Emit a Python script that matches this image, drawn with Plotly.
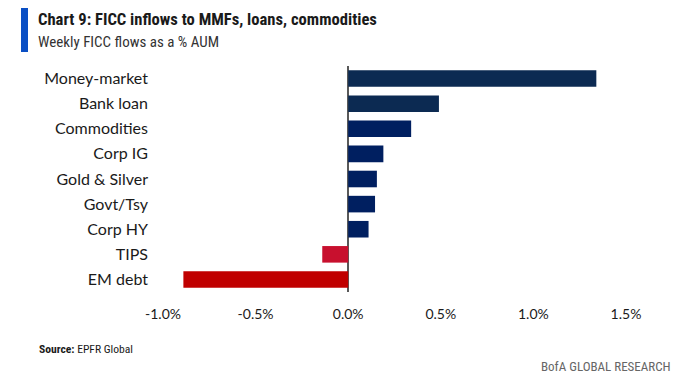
import plotly.graph_objects as go

categories = ["Money-market", "Bank loan", "Commodities", "Corp IG", "Gold & Silver",
              "Govt/Tsy", "Corp HY", "TIPS", "EM debt"]
flows_pct = [1.34, 0.49, 0.34, 0.19, 0.155, 0.145, 0.11, -0.14, -0.89]
tick_vals = [-1.0, -0.5, 0.0, 0.5, 1.0, 1.5]
tick_text = ["-1.0%", "-0.5%", "0.0%", "0.5%", "1.0%", "1.5%"]

bar_colors = ["#0c2a52", "#0c2a52", "#001f60", "#001f60", "#001f60", "#001f60", "#001f60",
              "#c8102e", "#c00000"]

OFF = 8  # page body margin
W, H = 697 - OFF, 385 - OFF
# target pixel positions in the screenshot
PL, PR, PT, PB = 155, 667, 66, 292
L, R, T, B = PL - OFF, W - (PR - OFF), PT - OFF, H - (PB - OFF)
pw, ph = W - L - R, H - T - B


def px(x):
    return (x - OFF - L) / pw


def py(y):
    return (H - B - (y - OFF)) / ph


NARROW = "Liberation Sans Narrow, Roboto Condensed, DejaVu Sans Condensed, sans-serif"

fig = go.Figure(go.Bar(
    y=categories, x=flows_pct, orientation="h",
    marker=dict(color=bar_colors, line=dict(width=0)),
    hoverinfo="skip",
))

fig.update_layout(
    width=W, height=H,
    margin=dict(l=L, r=R, t=T, b=B),
    paper_bgcolor="white", plot_bgcolor="white",
    font=dict(family="Lato, Open Sans, sans-serif", color="#1a1a1a"),
    bargap=0.34,
    showlegend=False,
    xaxis=dict(
        range=[-1.0 - 8 / 185, (PR - 348.5) / 185],
        tickvals=tick_vals, ticktext=tick_text,
        showgrid=False, showline=False,
        zeroline=True, zerolinecolor="#595959", zerolinewidth=2,
        tickfont=dict(size=14, color="#1a1a1a"),
        ticklabelstandoff=12,
        fixedrange=True,
    ),
    yaxis=dict(
        categoryorder="array", categoryarray=categories[::-1],
        showgrid=False, showline=False, zeroline=False,
        tickfont=dict(size=16, color="#1a1a1a"),
        ticklabelstandoff=6,
        fixedrange=True,
    ),
    shapes=[dict(type="rect", xref="paper", yref="paper",
                 x0=px(21), x1=px(28), y0=py(52), y1=py(8),
                 fillcolor="#0a4fc4", line=dict(width=0), layer="above")],
    annotations=[
        dict(text="<b>Chart 9: FICC inflows to MMFs, loans, commodities</b>",
             xref="paper", yref="paper", x=px(36), y=py(20),
             xanchor="left", yanchor="middle", showarrow=False,
             font=dict(family=NARROW, size=16.6, color="#1a1a1a")),
        dict(text="Weekly FICC flows as a % AUM",
             xref="paper", yref="paper", x=px(36), y=py(42),
             xanchor="left", yanchor="middle", showarrow=False,
             font=dict(family=NARROW, size=15, color="#333333")),
        dict(text="<b>Source:</b> EPFR Global",
             xref="paper", yref="paper", x=px(37), y=py(349),
             xanchor="left", yanchor="middle", showarrow=False,
             font=dict(family=NARROW, size=11.6, color="#1a1a1a")),
        dict(text="BofA GLOBAL RESEARCH",
             xref="paper", yref="paper", x=px(673), y=py(366),
             xanchor="right", yanchor="middle", showarrow=False,
             font=dict(family=NARROW, size=13, color="#666666")),
    ],
)

fig.write_html("out.html")
